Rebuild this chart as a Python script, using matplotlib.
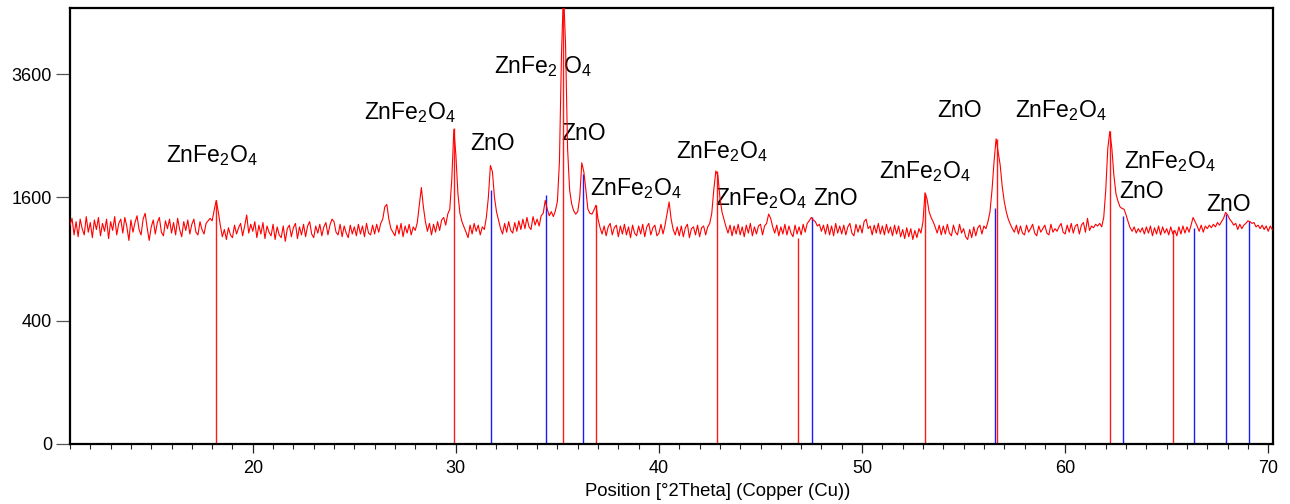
import numpy as np
import matplotlib
matplotlib.use("Agg")
import matplotlib.pyplot as plt
from matplotlib.ticker import FixedLocator, MultipleLocator

plt.rcParams["font.family"] = ["Liberation Sans", "DejaVu Sans"]
plt.rcParams["mathtext.fontset"] = "custom"
plt.rcParams["mathtext.rm"] = "Liberation Sans"
plt.rcParams["mathtext.it"] = "Liberation Sans:italic"

# Measured pattern, 2theta from 11.0 deg in 0.1 deg steps (counts)
start_2theta = 11.0
step_2theta = 0.1
counts = [
    1260, 1340, 1150, 1300, 1130, 1330, 1220, 1150, 1360, 1180,  # 11
    1290, 1120, 1320, 1210, 1350, 1140, 1280, 1190, 1330, 1110,  # 12
    1300, 1200, 1360, 1150, 1280, 1330, 1170, 1350, 1240, 1090,  # 13
    1320, 1180, 1290, 1370, 1210, 1150, 1330, 1400, 1230, 1090,  # 14
    1240, 1320, 1160, 1290, 1350, 1180, 1140, 1310, 1220, 1330,  # 15
    1170, 1290, 1150, 1340, 1210, 1130, 1300, 1200, 1320, 1160,  # 16
    1270, 1330, 1180, 1150, 1300, 1210, 1160, 1280, 1310, 1340,  # 17
    1310, 1440, 1560, 1420, 1260, 1130, 1210, 1100, 1230, 1150,  # 18
    1120, 1260, 1160, 1230, 1280, 1140, 1250, 1380, 1170, 1270,  # 19
    1190, 1300, 1120, 1260, 1160, 1290, 1110, 1250, 1180, 1140,  # 20
    1270, 1100, 1240, 1150, 1120, 1250, 1080, 1220, 1260, 1130,  # 21
    1230, 1280, 1110, 1240, 1150, 1270, 1130, 1250, 1300, 1160,  # 22
    1120, 1250, 1170, 1270, 1140, 1240, 1290, 1150, 1260, 1330,  # 23
    1300, 1180, 1150, 1270, 1130, 1250, 1170, 1120, 1260, 1160,  # 24
    1240, 1140, 1270, 1160, 1250, 1130, 1280, 1170, 1150, 1260,  # 25
    1160, 1270, 1180, 1280, 1330, 1480, 1510, 1330, 1220, 1180,  # 26
    1140, 1260, 1160, 1280, 1130, 1250, 1170, 1270, 1150, 1240,  # 27
    1200, 1290, 1500, 1730, 1480, 1300, 1190, 1280, 1150, 1270,  # 28
    1180, 1300, 1200, 1320, 1350, 1260, 1390, 1450, 1850, 2600,  # 29
    2200, 1650, 1400, 1300, 1240, 1180, 1120, 1260, 1160, 1280,  # 30
    1190, 1260, 1150, 1240, 1210, 1350, 1600, 2040, 1950, 1600,  # 31
    1420, 1320, 1220, 1160, 1280, 1180, 1300, 1200, 1170, 1290,  # 32
    1190, 1310, 1210, 1330, 1220, 1350, 1240, 1210, 1360, 1260,  # 33
    1330, 1250, 1370, 1400, 1560, 1450, 1370, 1420, 1360, 1430,  # 34
    1550, 2100, 4000, 5400, 4200, 2300, 1700, 1520, 1430, 1390,  # 35
    1420, 1600, 2080, 1950, 1700, 1450, 1400, 1390, 1440, 1500,  # 36
    1330, 1230, 1160, 1250, 1140, 1240, 1280, 1150, 1230, 1260,  # 37
    1130, 1250, 1160, 1270, 1150, 1240, 1120, 1260, 1170, 1140,  # 38
    1250, 1160, 1270, 1130, 1240, 1280, 1150, 1230, 1260, 1140,  # 39
    1170, 1270, 1160, 1260, 1400, 1540, 1330, 1210, 1150, 1240,  # 40
    1140, 1250, 1130, 1230, 1270, 1120, 1220, 1240, 1150, 1260,  # 41
    1130, 1230, 1250, 1150, 1240, 1280, 1400, 1700, 1960, 1900,  # 42
    1600, 1420, 1330, 1240, 1170, 1260, 1140, 1250, 1160, 1270,  # 43
    1150, 1240, 1130, 1260, 1170, 1280, 1140, 1240, 1160, 1250,  # 44
    1270, 1150, 1250, 1280, 1390, 1340, 1240, 1170, 1260, 1140,  # 45
    1240, 1160, 1270, 1150, 1250, 1170, 1130, 1260, 1160, 1240,  # 46
    1150, 1270, 1180, 1280, 1310, 1350, 1320, 1300, 1250, 1270,  # 47
    1190, 1260, 1160, 1270, 1150, 1250, 1140, 1280, 1170, 1250,  # 48
    1160, 1260, 1150, 1240, 1280, 1170, 1140, 1270, 1180, 1260,  # 49
    1170, 1300, 1330, 1220, 1250, 1150, 1260, 1170, 1280, 1160,  # 50
    1250, 1150, 1270, 1170, 1240, 1140, 1260, 1160, 1250, 1130,  # 51
    1210, 1110, 1230, 1130, 1220, 1100, 1200, 1120, 1220, 1170,  # 52
    1300, 1660, 1580, 1420, 1350, 1300, 1240, 1170, 1260, 1150,  # 53
    1250, 1160, 1270, 1170, 1140, 1260, 1180, 1150, 1270, 1170,  # 54
    1220, 1130, 1100, 1210, 1120, 1240, 1140, 1230, 1260, 1160,  # 55
    1250, 1220, 1300, 1420, 1700, 2100, 2450, 2250, 2050, 1750,  # 56
    1550, 1420, 1330, 1270, 1220, 1180, 1260, 1160, 1250, 1170,  # 57
    1150, 1260, 1180, 1220, 1270, 1170, 1140, 1250, 1180, 1220,  # 58
    1260, 1170, 1150, 1270, 1180, 1220, 1190, 1240, 1280, 1180,  # 59
    1160, 1260, 1180, 1280, 1170, 1250, 1270, 1160, 1260, 1290,  # 60
    1180, 1340, 1200, 1250, 1230, 1270, 1250, 1280, 1240, 1350,  # 61
    1700, 2300, 2570, 2300, 1900, 1650, 1550, 1480, 1460, 1450,  # 62
    1380, 1300, 1230, 1190, 1240, 1170, 1220, 1180, 1230, 1160,  # 63
    1240, 1170, 1250, 1140, 1230, 1160, 1250, 1150, 1240, 1170,  # 64
    1220, 1150, 1240, 1160, 1200, 1140, 1240, 1160, 1250, 1170,  # 65
    1240, 1180, 1260, 1350, 1300, 1250, 1190, 1260, 1180, 1250,  # 66
    1220, 1260, 1230, 1270, 1240, 1290, 1260, 1300, 1340, 1410,  # 67
    1380, 1330, 1300, 1260, 1280, 1210, 1270, 1220, 1260, 1280,  # 68
    1310, 1300, 1280, 1290, 1240, 1260, 1220, 1260, 1210, 1250,  # 69
    1190, 1250, 1210,                                            # 70
]

# Reference pattern sticks
znfe2o4_pos = [18.19, 29.92, 35.28, 36.89, 42.84, 46.84, 53.10, 56.63, 62.20, 65.33]
znfe2o4_height = [1560, 2620, 5400, 1500, 1960, 1120, 1660, 2450, 2570, 1200]
zno_pos = [31.75, 34.43, 36.24, 47.53, 56.57, 62.87, 66.36, 67.92, 69.03]
zno_height = [1700, 1630, 1920, 1350, 1470, 1370, 1230, 1395, 1310]

# Phase labels
ZF = r"ZnFe$\mathregular{_2}$O$\mathregular{_4}$"
ZF_SPLIT = r"ZnFe$\mathregular{_2}$ O$\mathregular{_4}$"
label_text = [ZF, ZF, "ZnO", ZF_SPLIT, "ZnO", ZF, ZF, ZF, "ZnO", ZF,
              "ZnO", ZF, ZF, "ZnO", "ZnO"]
label_x = [17.97, 27.71, 31.80, 34.31, 36.27, 38.88, 43.12, 45.03, 48.72, 53.10,
           54.78, 59.80, 65.16, 63.74, 68.07]
label_y = [2189, 2892, 2376, 3754, 2537, 1716, 2251, 1583, 1583, 1952,
           2928, 2928, 2099, 1675, 1506]

y_ticks = [0, 400, 1600, 3600]
x_ticks = [20, 30, 40, 50, 60, 70]

two_theta = start_2theta + step_2theta * np.arange(len(counts))

W, H = 1290, 504
fig = plt.figure(figsize=(W / 100, H / 100), dpi=100)
ax = fig.add_axes([70 / W, 1 - 444 / H, 1202.7 / W, 436 / H])

ax.set_yscale("function",
              functions=(lambda v: np.sqrt(np.clip(v, 0, None)), lambda v: np.square(v)))

ax.vlines(znfe2o4_pos, 0, znfe2o4_height, colors="#ff1a1a", linewidth=1.0, zorder=2)
ax.vlines(zno_pos, 0, zno_height, colors="#1a1aff", linewidth=1.0, zorder=2)
ax.plot(two_theta, counts, color="#ff0000", linewidth=0.8, zorder=3)

for t, x, y in zip(label_text, label_x, label_y):
    ax.text(x, y, t, ha="center", va="center", fontsize=16.5, color="black", zorder=1)

ax.set_xlim(11.0, 70.22)
ax.set_ylim(0, 5000)

ax.xaxis.set_major_locator(FixedLocator(x_ticks))
ax.xaxis.set_minor_locator(MultipleLocator(1))
ax.yaxis.set_major_locator(FixedLocator(y_ticks))
ax.yaxis.set_minor_locator(FixedLocator([]))
ax.set_yticklabels([str(v) for v in y_ticks])
ax.set_xticklabels([str(v) for v in x_ticks])

ax.tick_params(axis="x", which="major", direction="out", length=6.5, width=0.9,
               color="#222222", labelsize=13, pad=5)
ax.tick_params(axis="x", which="minor", direction="out", length=3.6, width=0.8,
               color="#222222")
ax.tick_params(axis="y", which="major", direction="out", length=10, width=0.9,
               color="#555555", labelsize=13, pad=3)

for s in ax.spines.values():
    s.set_linewidth(1.6)
    s.set_color("black")

fig.text(717.5 / W, 1 - 492 / H, "Position [°2Theta] (Copper (Cu))",
         ha="center", va="center", fontsize=13.3)

fig.savefig("out.png", dpi=100)
